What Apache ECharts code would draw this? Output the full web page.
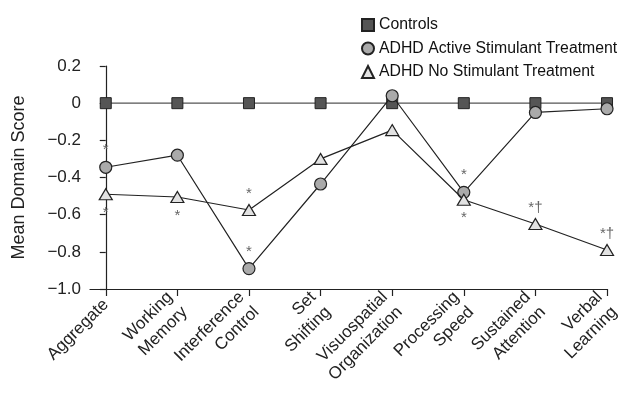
<!DOCTYPE html>
<html>
<head>
<meta charset="utf-8">
<script src="https://cdn.jsdelivr.net/npm/echarts@6/dist/echarts.min.js"></script>
<style>html,body{margin:0;padding:0;background:#fff}#c{width:624px;height:394px}</style>
</head>
<body>
<div id="c"></div>
<script>
var categories = ['Aggregate', 'Working\nMemory', 'Interference\nControl', 'Set\nShifting', 'Visuospatial\nOrganization', 'Processing\nSpeed', 'Sustained\nAttention', 'Verbal\nLearning'];
var seriesNames = ['Controls', 'ADHD Active Stimulant Treatment', 'ADHD No Stimulant Treatment'];
var controls = [0, 0, 0, 0, 0, 0, 0, 0];
var active = [-0.345, -0.28, -0.89, -0.435, 0.04, -0.48, -0.05, -0.03];
var noStim = [-0.49, -0.505, -0.575, -0.30, -0.145, -0.52, -0.65, -0.79];
var activeMarks = ['*', '', '*', '', '', '*', '', ''];
var activeMarkPos = ['top', '', 'top', '', '', 'top', '', ''];
var noStimMarks = ['*', '*', '*', '', '', '*', '*\u2020', '*\u2020'];
var noStimMarkPos = ['bottom', 'bottom', 'top', '', '', 'bottom', 'top', 'top'];
var yTicks = [0.2, 0, -0.2, -0.4, -0.6, -0.8, -1.0];

var FONT = '"Liberation Sans", Arial, sans-serif';

function build(vals, marks, pos) {
  return vals.map(function (v, i) {
    var item = { value: [i, v] };
    if (marks && marks[i]) {
      item.label = {
        show: true,
        position: pos[i],
        distance: pos[i] === 'top' ? 3 : 5,
        formatter: marks[i],
        color: '#666',
        fontSize: 15,
        fontFamily: FONT
      };
    }
    return item;
  });
}

var chart = echarts.init(document.getElementById('c'), null, { renderer: 'canvas' });
chart.setOption({
  animation: false,
  backgroundColor: '#fff',
  grid: { left: 90, right: 9, top: 66, bottom: 105, containLabel: false },
  legend: {
    orient: 'vertical',
    left: 356,
    top: 12,
    itemWidth: 12,
    itemHeight: 12,
    itemGap: 7.5,
    textStyle: { fontSize: 15.8, fontFamily: FONT, color: '#111', lineHeight: 16 },
    data: [
      { name: seriesNames[0], icon: 'rect' },
      { name: seriesNames[1], icon: 'circle' },
      { name: seriesNames[2], icon: 'triangle' }
    ]
  },
  xAxis: {
    type: 'value',
    min: -0.22,
    max: 7,
    splitLine: { show: false },
    axisLine: { onZero: false, lineStyle: { color: '#222', width: 1.2 } },
    axisTick: { customValues: [0, 1, 2, 3, 4, 5, 6, 7], length: 7, lineStyle: { color: '#222', width: 1.2 } },
    axisLabel: {
      customValues: [0, 1, 2, 3, 4, 5, 6, 7],
      rotate: 45,
      margin: 13,
      fontSize: 17,
      lineHeight: 21,
      fontFamily: FONT,
      color: '#222',
      formatter: function (v) { return categories[Math.round(v)]; }
    }
  },
  yAxis: {
    type: 'value',
    min: -1,
    max: 0.2,
    interval: 0.2,
    name: 'Mean Domain Score',
    nameLocation: 'middle',
    nameGap: 62,
    nameTextStyle: { fontSize: 18, fontFamily: FONT, color: '#222' },
    splitLine: { show: false },
    axisLine: { show: true, lineStyle: { color: '#222', width: 1.2 } },
    axisTick: { show: true, length: 6, lineStyle: { color: '#222', width: 1.2 } },
    axisLabel: {
      margin: 9,
      fontSize: 17,
      fontFamily: FONT,
      color: '#222',
      formatter: function (v) {
        if (Math.abs(v) < 1e-9) return '0';
        var s = Math.abs(v).toFixed(1);
        return (v < 0 ? '\u2212' : '') + s;
      }
    }
  },
  series: [
    {
      name: seriesNames[0],
      type: 'line',
      symbol: 'rect',
      symbolSize: 11,
      data: build(controls),
      lineStyle: { color: '#555', width: 1.2 },
      itemStyle: { color: '#555', borderColor: '#222', borderWidth: 1 },
      z: 2
    },
    {
      name: seriesNames[1],
      type: 'line',
      symbol: 'circle',
      symbolSize: 12,
      data: build(active, activeMarks, activeMarkPos),
      lineStyle: { color: '#222', width: 1.2 },
      itemStyle: { color: '#aaa', borderColor: '#222', borderWidth: 1.2 },
      z: 3
    },
    {
      name: seriesNames[2],
      type: 'line',
      symbol: 'triangle',
      symbolSize: [13, 11],
      data: build(noStim, noStimMarks, noStimMarkPos),
      lineStyle: { color: '#222', width: 1.2 },
      itemStyle: { color: '#e2e2e2', borderColor: '#222', borderWidth: 1.2 },
      z: 4
    }
  ]
});
</script>
</body>
</html>
